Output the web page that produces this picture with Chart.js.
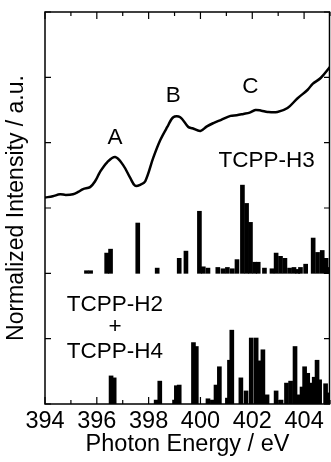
<!DOCTYPE html>
<html lang="en">
<head>
  <meta charset="UTF-8">
  <title>TCPP NEXAFS</title>
  <script src="https://cdn.jsdelivr.net/npm/chart.js"></script>
  <style>
    body {
      margin: 0;
      background: #fff;
    }
    canvas {
      display: block;
    }
  </style>
</head>
<body>
  <canvas id="chart" width="331" height="462"></canvas>

  <script>
    // measured spectrum (photon energy in eV, normalized intensity)
    const curveE = [394.0, 394.3, 394.58, 394.8, 395.08, 395.3, 395.47, 395.74, 395.95, 396.12, 396.4, 396.71,
      397.01, 397.29, 397.48, 397.7, 397.87, 398.18, 398.45, 398.72, 398.95, 399.22, 399.53, 399.69, 400.0,
      400.25, 400.5, 400.8, 401.16, 401.4, 401.66, 401.9, 402.12, 402.35, 402.59, 402.97, 403.36, 403.75,
      404.14, 404.33, 404.64, 405.0];
    const curveI = [3.16, 3.18, 3.21, 3.2, 3.21, 3.25, 3.29, 3.32, 3.42, 3.55, 3.70, 3.78,
      3.66, 3.46, 3.34, 3.36, 3.41, 3.77, 4.04, 4.24, 4.39, 4.39, 4.24, 4.22, 4.18,
      4.25, 4.30, 4.35, 4.41, 4.42, 4.44, 4.46, 4.50, 4.49, 4.47, 4.47, 4.53, 4.68,
      4.81, 4.90, 4.99, 5.16];

    // calculated transitions, TCPP-H3 (drawn on a baseline of 2)
    const h3Base = 2;
    const h3E = [395.6, 395.76, 396.38, 396.53, 397.58, 398.33, 399.18, 399.44, 399.96, 400.11, 400.29,
      400.67, 400.87, 401.04, 401.23, 401.41, 401.62, 401.78, 401.93, 402.09, 402.23, 402.47, 402.76,
      402.92, 403.09, 403.26, 403.44, 403.61, 403.75, 403.86, 404.06, 404.35, 404.52, 404.70, 404.85, 404.97];
    const h3H = [0.04, 0.04, 0.31, 0.37, 0.77, 0.08, 0.23, 0.34, 0.95, 0.10, 0.08,
      0.09, 0.07, 0.09, 0.07, 0.21, 1.35, 1.07, 0.78, 0.17, 0.17, 0.08, 0.07,
      0.31, 0.26, 0.23, 0.08, 0.09, 0.06, 0.09, 0.14, 0.54, 0.32, 0.35, 0.23, 0.09];

    // calculated transitions, TCPP-H2 + TCPP-H4
    const h24E = [396.55, 396.67, 398.29, 398.43, 399.0, 399.07, 399.18, 399.73, 399.84, 400.29, 400.46,
      400.6, 400.73, 401.04, 401.12, 401.21, 401.56, 401.76, 401.96, 402.15, 402.27, 402.41, 402.57,
      402.92, 403.11, 403.32, 403.48, 403.65, 403.81, 403.92, 404.02, 404.14, 404.27, 404.39, 404.5,
      404.6, 404.83, 404.97];
    const h24H = [0.43, 0.40, 0.06, 0.35, 0.06, 0.28, 0.29, 0.94, 0.88, 0.08, 0.06,
      0.29, 0.57, 0.09, 0.67, 1.13, 0.40, 0.20, 1.01, 1.01, 0.66, 0.83, 0.14,
      0.20, 0.06, 0.32, 0.35, 0.88, 0.14, 0.26, 0.57, 0.47, 0.32, 0.41, 0.67,
      0.37, 0.31, 0.17];

    const xLabels = [394, 396, 398, 400, 402, 404];
    const xTicks = [394, 395, 396, 397, 398, 399, 400, 401, 402, 403, 404, 405];
    const yTicks = [0, 1, 2, 3, 4, 5, 6];

    const labels = [
      { text: 'A', x: 396.7, y: 4.07 },
      { text: 'B', x: 398.95, y: 4.71 },
      { text: 'C', x: 401.93, y: 4.85 },
      { text: 'TCPP-H3', x: 402.55, y: 3.73 },
      { text: 'TCPP-H2', x: 396.7, y: 1.52 },
      { text: '+', x: 396.7, y: 1.18 },
      { text: 'TCPP-H4', x: 396.7, y: 0.80 }
    ];

    const font = '"Liberation Sans", Arial, sans-serif';

    const framePlugin = {
      id: 'frame',
      afterDraw(chart) {
        const { ctx, chartArea: a, scales: { x, y } } = chart;
        ctx.save();
        ctx.strokeStyle = '#000';
        ctx.lineWidth = 1.5;
        ctx.beginPath();
        ctx.moveTo(a.left, a.top);
        ctx.lineTo(a.right - 0.5, a.top);
        ctx.lineTo(a.right - 0.5, a.bottom);
        ctx.lineTo(a.left, a.bottom);
        ctx.closePath();
        ctx.stroke();
        ctx.lineWidth = 1.2;
        ctx.beginPath();
        xTicks.forEach(v => {
          const px = x.getPixelForValue(v);
          const len = v % 2 === 0 ? 7 : 4;
          ctx.moveTo(px, a.bottom); ctx.lineTo(px, a.bottom - len);
          ctx.moveTo(px, a.top); ctx.lineTo(px, a.top + len);
        });
        yTicks.forEach(v => {
          const py = y.getPixelForValue(v);
          ctx.moveTo(a.left, py); ctx.lineTo(a.left + 6, py);
          ctx.moveTo(a.right, py); ctx.lineTo(a.right - 6, py);
        });
        ctx.stroke();

        ctx.fillStyle = '#000';
        ctx.font = '22.5px ' + font;
        ctx.textAlign = 'center';
        ctx.textBaseline = 'middle';
        labels.forEach(l => {
          ctx.fillText(l.text, x.getPixelForValue(l.x), y.getPixelForValue(l.y));
        });
        ctx.restore();
      }
    };

    new Chart(document.getElementById('chart'), {
      type: 'bar',
      data: {
        datasets: [
          {
            type: 'line',
            data: curveE.map((e, i) => ({ x: e, y: curveI[i] })),
            borderColor: '#000',
            borderWidth: 2.5,
            pointRadius: 0,
            tension: 0.35,
            fill: false
          },
          {
            data: h3E.map((e, i) => ({ x: e, y: [h3Base, h3Base + h3H[i]] })),
            backgroundColor: '#000',
            barThickness: 4,
            grouped: false
          },
          {
            data: h24E.map((e, i) => ({ x: e, y: h24H[i] })),
            backgroundColor: '#000',
            barThickness: 4,
            grouped: false
          }
        ]
      },
      options: {
        responsive: false,
        animation: false,
        layout: { padding: { top: 12, right: 1, left: 0, bottom: 0 } },
        plugins: {
          legend: { display: false },
          tooltip: { enabled: false }
        },
        scales: {
          x: {
            type: 'linear',
            min: 394,
            max: 405,
            offset: false,
            grid: { display: false, drawTicks: false },
            border: { display: false },
            afterFit: s => { s.height = 58; },
            afterBuildTicks: s => { s.ticks = xLabels.map(v => ({ value: v })); },
            ticks: {
              autoSkip: false,
              maxRotation: 0,
              padding: 3,
              color: '#000',
              font: { family: font, size: 23.5 }
            },
            title: {
              display: true,
              text: 'Photon Energy / eV',
              color: '#000',
              font: { family: font, size: 23.5 },
              padding: { top: 0, bottom: 3 }
            }
          },
          y: {
            min: 0,
            max: 6,
            grid: { display: false, drawTicks: false },
            border: { display: false },
            ticks: { display: false },
            afterFit: s => { s.width = 45; },
            title: {
              display: true,
              text: 'Normalized Intensity / a.u.',
              color: '#000',
              font: { family: font, size: 23 },
              padding: { top: 3, bottom: 0 }
            }
          }
        }
      },
      plugins: [framePlugin]
    });
  </script>
</body>
</html>
